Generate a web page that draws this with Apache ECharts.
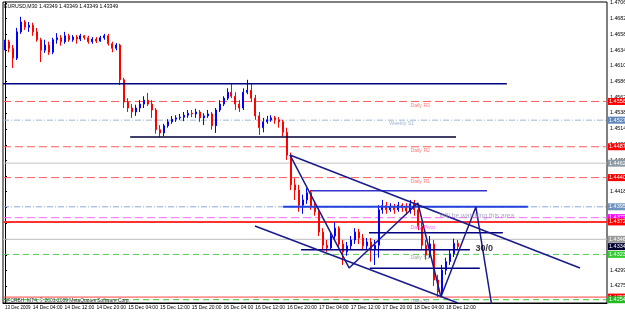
<!DOCTYPE html>
<html><head><meta charset="utf-8">
<script src="https://cdn.jsdelivr.net/npm/echarts@6.0.0/dist/echarts.min.js"></script>
<style>html,body{margin:0;padding:0;background:#fff}#c{width:625px;height:313px}</style>
</head><body><div id="c"></div>
<script>
// ---- DATA (prices in pips: 4642 => 1.4642) ----
const opens = [4642,4647,4637,4622,4662,4677,4669,4672,4662,4650,
4634,4642,4631,4650,4653,4647,4656,4650,4654,4651,
4656,4653,4647,4651,4648,4653,4656,4644,4637,4642,
4589,4555,4546,4540,4546,4552,4558,4552,4543,4513,
4508,4519,4525,4529,4531,4532,4535,4538,4537,4540,
4531,4534,4537,4519,4543,4552,4561,4570,4564,4552,
4546,4570,4573,4561,4534,4516,4525,4528,4531,4528,
4525,4509,4474,4429,4421,4398,4406,4417,4397,4388,
4357,4337,4333,4351,4363,4339,4327,4336,4345,4357,
4348,4336,4342,4330,4337,4391,4397,4391,4395,4391,
4398,4394,4389,4400,4391,4366,4337,4322,4339,4284,
4266,4299,4312,4324,4340];
const closes = [4647,4637,4622,4662,4677,4669,4672,4662,4650,4634,
4642,4631,4650,4653,4647,4656,4650,4654,4651,4656,
4653,4647,4651,4648,4653,4656,4644,4637,4642,4589,
4555,4546,4540,4546,4552,4558,4552,4543,4513,4508,
4519,4525,4529,4531,4532,4535,4538,4537,4540,4531,
4534,4537,4519,4543,4552,4561,4570,4564,4552,4546,
4570,4573,4561,4534,4516,4525,4528,4531,4528,4525,
4509,4474,4429,4421,4398,4406,4417,4397,4388,4357,
4337,4333,4351,4363,4339,4327,4336,4345,4357,4348,
4336,4342,4330,4337,4391,4397,4391,4395,4391,4398,
4394,4389,4400,4391,4366,4337,4322,4339,4284,4266,
4299,4312,4324,4340,4334.9];
const highs = [4650,4650,4642,4668,4685,4680,4677,4676,4668,4653,
4650,4647,4653,4660,4657,4662,4659,4657,4657,4659,
4657,4656,4654,4654,4656,4659,4659,4647,4645,4644,
4592,4561,4552,4551,4558,4564,4569,4558,4546,4520,
4522,4529,4534,4535,4537,4540,4543,4543,4545,4543,
4538,4543,4540,4546,4558,4564,4576,4584,4570,4558,
4576,4589,4583,4566,4540,4531,4534,4535,4534,4532,
4528,4516,4478,4439,4429,4414,4424,4421,4403,4394,
4363,4345,4357,4372,4366,4345,4342,4351,4363,4362,
4354,4348,4348,4345,4398,4406,4403,4401,4400,4403,
4401,4401,4406,4406,4395,4372,4345,4351,4345,4292,
4307,4318,4330,4347,4345];
const lows = [4634,4631,4607,4619,4659,4665,4662,4656,4647,4616,
4630,4627,4628,4644,4641,4644,4647,4647,4644,4648,
4650,4644,4644,4645,4647,4650,4641,4631,4634,4581,
4546,4540,4531,4534,4540,4546,4549,4531,4507,4502,
4503,4516,4522,4525,4528,4526,4531,4532,4531,4525,
4520,4531,4513,4508,4540,4549,4558,4561,4543,4540,
4543,4567,4555,4528,4505,4509,4522,4525,4522,4516,
4503,4467,4421,4406,4388,4385,4400,4391,4382,4351,
4330,4327,4330,4345,4333,4307,4321,4330,4339,4339,
4330,4330,4312,4307,4318,4385,4385,4388,4385,4388,
4388,4383,4385,4382,4360,4330,4315,4318,4275,4258,
4261,4292,4307,4319,4330];

const totalSlots = 152;
const xTickIndex = [0,7,15,23,31,39,47,55,63,71,79,87,95,103,111];
const xTickText = ['13 Dec 2009','14 Dec 04:00','14 Dec 12:00','14 Dec 20:00','15 Dec 04:00','15 Dec 12:00','15 Dec 20:00','16 Dec 04:00','16 Dec 12:00','16 Dec 20:00','17 Dec 04:00','17 Dec 12:00','17 Dec 20:00','18 Dec 04:00','18 Dec 12:00'];
const yTickValues = [1.4706,1.4682,1.4658,1.4634,1.4610,1.45865,1.4562,1.45385,1.4514,1.4490,1.4466,1.4442,1.44185,1.4395,1.4370,1.4346,1.4322,1.4299,1.4275];

// full-width levels
const levelPrices = [1.4556,1.45275,1.4487,1.4462,1.4440,1.43955,1.4379,1.43725,1.4346,1.43349,1.4323,1.4258,1.4254];

// drawn objects (data coordinates: bar index, price)
const hLines = [
  [[-0.5,1.4583],[126.3,1.4583]],
  [[31.5,1.4502],[113.5,1.4502]],
  [[77.0,1.4420],[121.3,1.4420]],
  [[70.0,1.43955],[131.6,1.43955]],
  [[91.6,1.4356],[125.3,1.4356]],
  [[74.5,1.4330],[117.0,1.4330]],
  [[91.8,1.4302],[119.5,1.4302]]
];
const trendLines = [
  [[71.7,1.44745],[144.7,1.43024]],
  [[62.9,1.43664],[114.0,1.42491]],
  [[71.7,1.44745],[86.6,1.43024],[103.9,1.44014],[109.7,1.42582],[118.5,1.43953],[122.8,1.42339]]
];
const notes = [
  [101.9,1.4549,'Daily R3'],
  [96.6,1.45217,'Weekly S1'],
  [101.9,1.44806,'Daily R2'],
  [101.9,1.44334,'Daily R1'],
  [109.2,1.43816,'Will be watching this area'],
  [101.9,1.43633,'Daily Pivot'],
  [118.3,1.43313,'30/0'],
  [101.9,1.43176,'Daily S1'],
  [101.9,1.42505,'Daily S2']
];

// ---- STYLES ----
const levelStyle = [
  {c:'#ff5a5a',t:[8,4],w:1,box:'#ff0000'},
  {c:'#9fb6d6',t:[6,2,1,2],w:1,box:'#5f86b8'},
  {c:'#ff5a5a',t:[8,4],w:1,box:'#ff0000'},
  {c:'#c4c4c4',t:'solid',w:1,box:'#8c9aa6'},
  {c:'#ff5a5a',t:[8,4],w:1,box:'#ff0000'},
  {c:'#8ea8d6',t:[6,2,1,2],w:1,box:'#6e92bf'},
  {c:'#ff66ff',t:[8,4],w:1,box:'#ff00ff'},
  {c:'#ff3030',t:'solid',w:2,box:'#ff0000'},
  {c:'#bdbdbd',t:'solid',w:1,box:'#9a9a9a'},
  {c:'rgba(0,0,0,0)',t:'solid',w:1,box:'#000033'},
  {c:'#55cc55',t:[6,4],w:1,box:'#33cc33'},
  {c:'#ff4040',t:'solid',w:1,box:'#ff0000'},
  {c:'#33cc33',t:[6,4],w:1,box:'#22bb22'}
];
const hLineStyle = [
  {c:'#000080',w:1.5},{c:'#000033',w:1.5},{c:'#3333cc',w:1.5},{c:'#2040e0',w:2},
  {c:'#000080',w:1.5},{c:'#000080',w:1.5},{c:'#000080',w:1.5}
];
const noteStyle = [
  {c:'#ff6060',s:5.2},{c:'#8da4c4',s:5.2},{c:'#ff6060',s:5.2},{c:'#ff6060',s:5.2},
  {c:'#9a90b8',s:6.6},{c:'#ff40ff',s:5.2},{c:'#000',s:9,b:'bold'},{c:'#7a9a7a',s:5.2},{c:'#8a8ab0',s:5.2}
];

const P = v => 1 + v/10000;
const candles = opens.map((o,i)=>[P(o),P(closes[i]),P(lows[i]),P(highs[i])]);
const cats = Array.from({length: totalSlots}, (_, i) => String(i));
const tickSet = new Set(xTickIndex);
const FONT = "'Liberation Sans',sans-serif";

const series = [{
  type:'candlestick', data:candles, xAxisIndex:0, yAxisIndex:0, barWidth:1.5, z:5,
  itemStyle:{color:'#0000ff',color0:'#ff0000',borderColor:'#0000ff',borderColor0:'#ff0000',borderWidth:1}
}];
levelPrices.forEach((p,k)=>series.push({type:'line',xAxisIndex:1,yAxisIndex:0,
  data:[[-0.5,p],[totalSlots-0.5,p]],symbol:'none',silent:true,z:2,
  lineStyle:{color:levelStyle[k].c,type:levelStyle[k].t,width:levelStyle[k].w},
  endLabel:{show:true,distance:1,formatter:p.toFixed(5),backgroundColor:levelStyle[k].box,
    color:'#fff',fontSize:5.5,fontFamily:FONT,padding:[1,2,0,1]}}));
hLines.forEach((d,k)=>series.push({type:'line',xAxisIndex:1,yAxisIndex:0,data:d,symbol:'none',silent:true,
  lineStyle:{color:hLineStyle[k].c,width:hLineStyle[k].w},z:6}));
trendLines.forEach(d=>series.push({type:'line',xAxisIndex:1,yAxisIndex:0,data:d,symbol:'none',silent:true,clip:true,
  lineStyle:{color:'#1a1a8c',width:1.5},z:6}));
series.push({type:'scatter',xAxisIndex:1,yAxisIndex:0,symbolSize:1,silent:true,z:7,
  itemStyle:{color:'rgba(0,0,0,0)'},
  labelLayout:{hideOverlap:false},
  data: notes.map((n,k)=>({value:[n[0],n[1]],label:{show:true,position:'right',distance:0,formatter:n[2],
    color:noteStyle[k].c,fontSize:noteStyle[k].s,fontWeight:noteStyle[k].b||'normal',fontFamily:FONT}}))});

const chart = echarts.init(document.getElementById('c'),null,{renderer:'canvas'});
chart.setOption({
  animation:false,
  backgroundColor:'#fff',
  title:{text:'EURUSD,M30 1.43349 1.43349 1.43349 1.43349',left:4,top:4,padding:0,
    textStyle:{fontSize:5.2,fontWeight:'normal',color:'#000',fontFamily:FONT}},
  graphic:[{type:'text',left:4,top:298,z:10,style:{text:'SPCRBH: MT4, \u00a9 2001-2009 MetaQuotes Software Corp.',fontSize:4.9,fill:'#333',fontFamily:FONT}}],
  grid:{left:3,right:18,top:2,bottom:10,show:true,borderColor:'#000',borderWidth:1,outerBoundsMode:'none',containLabel:false},
  xAxis:[{type:'category',data:cats,boundaryGap:true,
      axisLine:{lineStyle:{color:'#000'}},
      axisTick:{interval:(i)=>tickSet.has(i),length:3,lineStyle:{color:'#000'}},
      axisLabel:{interval:(i)=>tickSet.has(i),
        formatter:(v)=>{const k=xTickIndex.indexOf(Number(v)); return k===0?'{a|'+xTickText[0]+'}':(xTickText[k]||'');},
        rich:{a:{fontSize:4.5,fontFamily:FONT,color:'#000'}},
        align:'left',fontSize:5,color:'#000',fontFamily:FONT,margin:2,hideOverlap:false,showMinLabel:true,showMaxLabel:true},
      splitLine:{show:false}},
    {type:'value',min:-0.5,max:totalSlots-0.5,show:false}],
  yAxis:[{type:'value',position:'right',min:1.4249,max:1.47075,scale:true,
    axisLine:{show:true,lineStyle:{color:'#000'}},
    axisTick:{show:true,length:2,customValues:yTickValues,lineStyle:{color:'#000'}},
    axisLabel:{customValues:yTickValues,formatter:v=>v.toFixed(5),fontSize:5.3,color:'#000',fontFamily:FONT,margin:3},
    splitLine:{show:false}}],
  series: series
});
</script></body></html>
